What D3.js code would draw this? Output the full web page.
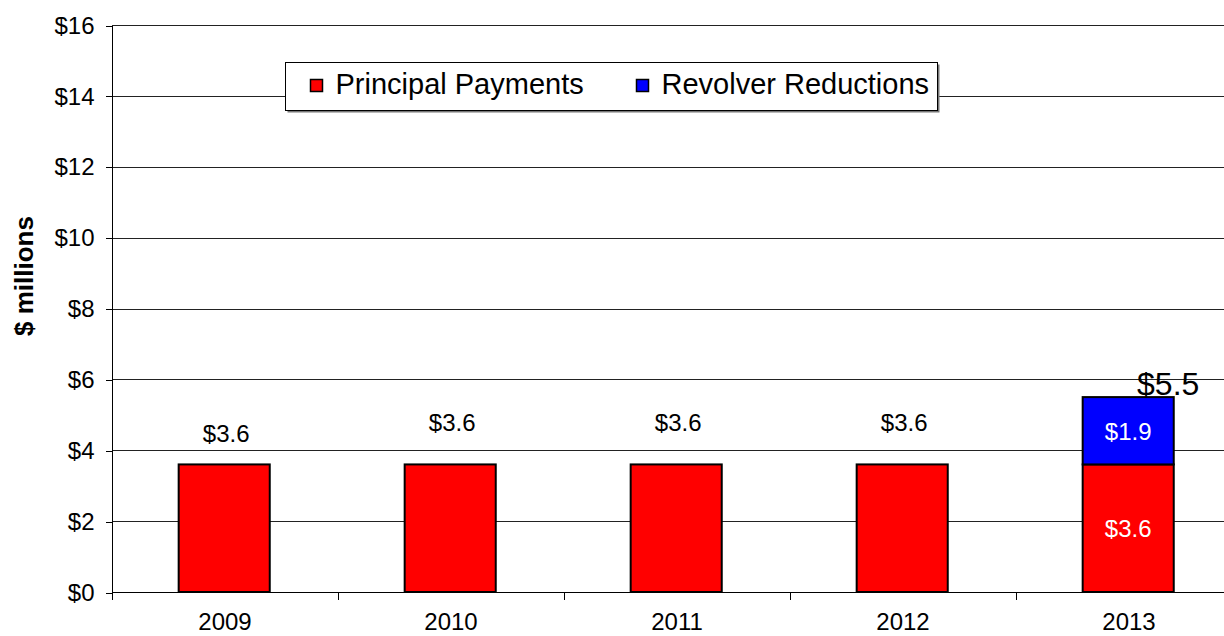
<html>
<head>
    <title>Debt repayment</title>
    <script src="https://d3js.org/d3.v7.min.js" charSet="utf-8"></script>
    <style>
        body { margin: 0; background: white; }
        text { font-family: "Liberation Sans", Arial, sans-serif; fill: black; }
        .axis path, .axis line { fill: none; stroke: black; shape-rendering: crispEdges; }
        .grid line { stroke: #222; shape-rendering: crispEdges; }
    </style>
</head>
<body>
<div id="vis_container"></div>
<script>
    // years on the x axis
    let years = ["2009", "2010", "2011", "2012", "2013"];
    // principal payments, $ millions
    let principal = [3.6, 3.6, 3.6, 3.6, 3.6];
    // revolver reductions, $ millions
    let revolver = [0, 0, 0, 0, 1.9];
    // total shown above the stacked bar
    let totals = [null, null, null, null, 5.5];
    let yTicks = [0, 2, 4, 6, 8, 10, 12, 14, 16];
    let seriesNames = ["Principal Payments", "Revolver Reductions"];
    let seriesColors = ["#ff0000", "#0000ff"];

    let width = 1224, height = 636;
    let svg = d3.select("#vis_container").append("svg")
        .attr("width", width).attr("height", height);

    // the plot runs off the right edge of the picture
    let x = d3.scaleBand().domain(years).range([112, 1242]).padding(0);
    let y = d3.scaleLinear().domain([0, 16]).range([592, 25]);
    let step = x.step();

    // gridlines
    svg.append("g").attr("class", "grid")
        .selectAll("line").data(yTicks.filter(d => d > 0)).enter()
        .append("line")
        .attr("x1", 112).attr("x2", width)
        .attr("y1", d => y(d) + 0.5).attr("y2", d => y(d) + 0.5);

    // y axis
    svg.append("g").attr("class", "axis")
        .attr("transform", "translate(112.5,0.5)")
        .call(d3.axisLeft(y).tickValues(yTicks).tickSize(7).tickPadding(11)
            .tickFormat(d => "$" + d))
        .call(g => g.selectAll("text").style("font-size", "24px"))
        .call(g => g.select(".domain").attr("d", "M0," + y(16) + "V" + y(0)));

    // x axis: ticks sit between the categories
    let xAxis = svg.append("g").attr("class", "axis")
        .attr("transform", "translate(0," + (y(0) + 0.5) + ")");
    xAxis.append("line").attr("x1", 112).attr("x2", width).attr("y1", 0).attr("y2", 0);
    xAxis.selectAll(".tk").data(years).enter().append("line")
        .attr("class", "tk")
        .attr("x1", d => Math.round(x(d)) + 0.5).attr("x2", d => Math.round(x(d)) + 0.5)
        .attr("y1", 0).attr("y2", 7);
    xAxis.selectAll(".lbl").data(years).enter().append("text")
        .attr("x", d => x(d) + step / 2).attr("y", 37)
        .style("text-anchor", "middle").style("font-size", "24px")
        .text(d => d);

    // stacked bars
    let stacks = years.map((yr, i) => ({year: yr, vals: [principal[i], revolver[i]]}));
    let barX = d => x(d.year) + step * 0.295;
    let barW = step * 0.403;
    stacks.forEach(function(s, i) {
        let base = 0;
        s.vals.forEach(function(v, k) {
            if (v <= 0) return;
            svg.append("rect")
                .attr("x", barX(s)).attr("width", barW)
                .attr("y", y(base + v)).attr("height", y(base) - y(base + v))
                .style("fill", seriesColors[k])
                .style("stroke", "black").style("stroke-width", 2);
            base += v;
        });
    });

    // value labels
    stacks.forEach(function(s, i) {
        let cx = barX(s) + barW / 2;
        if (revolver[i] > 0) {
            svg.append("text").attr("x", cx).attr("y", y(principal[i] / 2) + 9)
                .style("text-anchor", "middle").style("font-size", "24px").style("fill", "white")
                .text("$" + principal[i].toFixed(1));
            svg.append("text").attr("x", cx).attr("y", y(principal[i] + revolver[i] / 2) + 9)
                .style("text-anchor", "middle").style("font-size", "24px").style("fill", "white")
                .text("$" + revolver[i].toFixed(1));
        } else {
            let lift = i == 0 ? 22 : 33;
            svg.append("text").attr("x", cx + 2).attr("y", y(principal[i]) - lift)
                .style("text-anchor", "middle").style("font-size", "24px")
                .text("$" + principal[i].toFixed(1));
        }
        if (totals[i] != null) {
            svg.append("text").attr("x", cx + 40).attr("y", y(totals[i]) - 2)
                .style("text-anchor", "middle").style("font-size", "32px")
                .text("$" + totals[i].toFixed(1));
        }
    });

    // y title
    svg.append("text")
        .attr("transform", "translate(33,276) rotate(-90)")
        .style("text-anchor", "middle").style("font-size", "26px").style("font-weight", "bold")
        .text("$ millions");

    // legend
    let legend = svg.append("g").attr("transform", "translate(285.5,62.5)");
    legend.append("rect").attr("x", 2).attr("y", 2).attr("width", 652).attr("height", 48)
        .style("fill", "#777");
    legend.append("rect").attr("width", 652).attr("height", 48)
        .style("fill", "white").style("stroke", "black");
    let legendX = [25, 351];
    seriesNames.forEach(function(name, k) {
        legend.append("rect").attr("x", legendX[k]).attr("y", 17).attr("width", 12).attr("height", 12)
            .style("fill", seriesColors[k]).style("stroke", "black").style("stroke-width", 1.5);
        legend.append("text").attr("x", legendX[k] + 25).attr("y", 31)
            .style("font-size", "29px").text(name);
    });
</script>
</body>
</html>
